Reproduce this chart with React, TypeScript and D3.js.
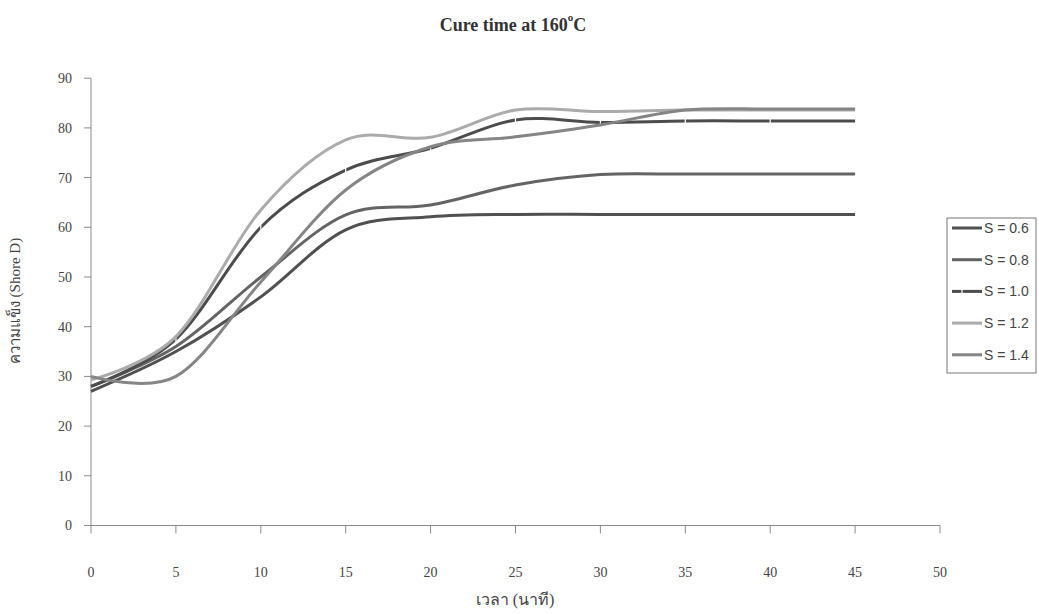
import React from "react";
import * as d3 from "d3";

const times = [0, 5, 10, 15, 20, 25, 30, 35, 40, 45];
const s06 = [27, 35, 46, 59.5, 62.1, 62.6, 62.6, 62.6, 62.6, 62.6];
const s08 = [28, 36, 50, 62.5, 64.5, 68.5, 70.6, 70.7, 70.7, 70.7];
const s10 = [28, 37.5, 60, 71.5, 75.9, 81.6, 81.1, 81.4, 81.4, 81.4];
const s12 = [29.3, 38, 63.5, 77.6, 78.1, 83.6, 83.3, 83.6, 83.6, 83.6];
const s14 = [30, 30, 49, 67.5, 76.2, 78.2, 80.6, 83.6, 83.8, 83.8];

const seriesNames = ["S = 0.6", "S = 0.8", "S = 1.0", "S = 1.2", "S = 1.4"];
const seriesValues = [s06, s08, s10, s12, s14];
const seriesColors = ["#505050", "#646464", "#4c4c4c", "#ababab", "#858585"];
const markedSeries = [false, false, true, false, false];

const xTicks = [0, 5, 10, 15, 20, 25, 30, 35, 40, 45, 50];
const yTicks = [0, 10, 20, 30, 40, 50, 60, 70, 80, 90];

const title = "Cure time at 160";
const xTitle = "เวลา (นาที)";
const yTitle = "ความแข็ง (Shore D)";

export default function App() {
  const W = 1039;
  const H = 614;
  const x = d3.scaleLinear().domain([0, 50]).range([91, 940]);
  const y = d3.scaleLinear().domain([0, 90]).range([525.5, 78.2]);
  const line = d3
    .line<[number, number]>()
    .x((d) => x(d[0]))
    .y((d) => y(d[1]))
    .curve(d3.curveCardinal.tension(0));

  const serif = "'Liberation Serif', 'Times New Roman', serif";
  const sans = "'Liberation Sans', Arial, sans-serif";

  const legendX = 947;
  const legendY = 218;
  const legendRowY = (i: number) => 228 + i * 31.7;

  return (
    <svg
      width={W}
      height={H}
      style={{ position: "absolute", left: 0, top: 0, background: "#fff" }}
    >
      {/* title */}
      <text
        x={513}
        y={31}
        textAnchor="middle"
        fontFamily={serif}
        fontWeight="bold"
        fontSize={18}
        fill="#333"
      >
        {title}
        <tspan dy={-10} fontSize={11}>o</tspan>
        <tspan dy={10}>C</tspan>
      </text>

      {/* axes */}
      <line x1={x(0)} x2={x(0)} y1={y(90)} y2={y(0)} stroke="#8a8a8a" strokeWidth={1} />
      <line x1={x(0)} x2={x(50)} y1={y(0)} y2={y(0)} stroke="#8a8a8a" strokeWidth={1} />
      {yTicks.map((t) => (
        <g key={"y" + t}>
          <line x1={x(0) - 7} x2={x(0)} y1={y(t)} y2={y(t)} stroke="#8a8a8a" />
          <text
            x={72}
            y={y(t)}
            dy="0.35em"
            textAnchor="end"
            fontFamily={serif}
            fontSize={14}
            fill="#444"
          >
            {t}
          </text>
        </g>
      ))}
      {xTicks.map((t) => (
        <g key={"x" + t}>
          <line x1={x(t)} x2={x(t)} y1={y(0)} y2={y(0) + 8} stroke="#8a8a8a" />
          <text
            x={x(t)}
            y={577}
            textAnchor="middle"
            fontFamily={serif}
            fontSize={14}
            fill="#444"
          >
            {t}
          </text>
        </g>
      ))}

      {/* axis titles */}
      <text
        x={515}
        y={605}
        textAnchor="middle"
        fontFamily={serif}
        fontSize={16}
        fill="#444"
      >
        {xTitle}
      </text>
      <text
        transform={`translate(20,301) rotate(-90)`}
        textAnchor="middle"
        fontFamily={serif}
        fontSize={15}
        fill="#444"
      >
        {yTitle}
      </text>

      {/* series */}
      {seriesValues.map((vals, i) => {
        const pts = times.map((t, j) => [t, vals[j]] as [number, number]);
        return (
          <g key={"s" + i}>
            <path
              d={line(pts) || ""}
              fill="none"
              stroke={seriesColors[i]}
              strokeWidth={3}
              strokeLinecap="butt"
            />
            {markedSeries[i] &&
              pts.slice(1, -1).map((p, j) => (
                <line
                  key={j}
                  x1={x(p[0])}
                  x2={x(p[0])}
                  y1={y(p[1]) - 2.5}
                  y2={y(p[1]) + 2.5}
                  stroke="#fff"
                  strokeWidth={1.2}
                />
              ))}
          </g>
        );
      })}

      {/* legend */}
      <rect
        x={legendX}
        y={legendY}
        width={89}
        height={155}
        fill="#fff"
        stroke="#777"
        strokeWidth={1}
      />
      {seriesNames.map((name, i) => (
        <g key={"l" + i}>
          <line
            x1={952}
            x2={982}
            y1={legendRowY(i)}
            y2={legendRowY(i)}
            stroke={seriesColors[i]}
            strokeWidth={3}
          />
          {markedSeries[i] && (
            <line
              x1={962}
              x2={962}
              y1={legendRowY(i) - 2.5}
              y2={legendRowY(i) + 2.5}
              stroke="#fff"
              strokeWidth={1.2}
            />
          )}
          <text
            x={984}
            y={legendRowY(i)}
            dy="0.35em"
            fontFamily={sans}
            fontSize={14}
            fill="#444"
          >
            {name}
          </text>
        </g>
      ))}
    </svg>
  );
}
